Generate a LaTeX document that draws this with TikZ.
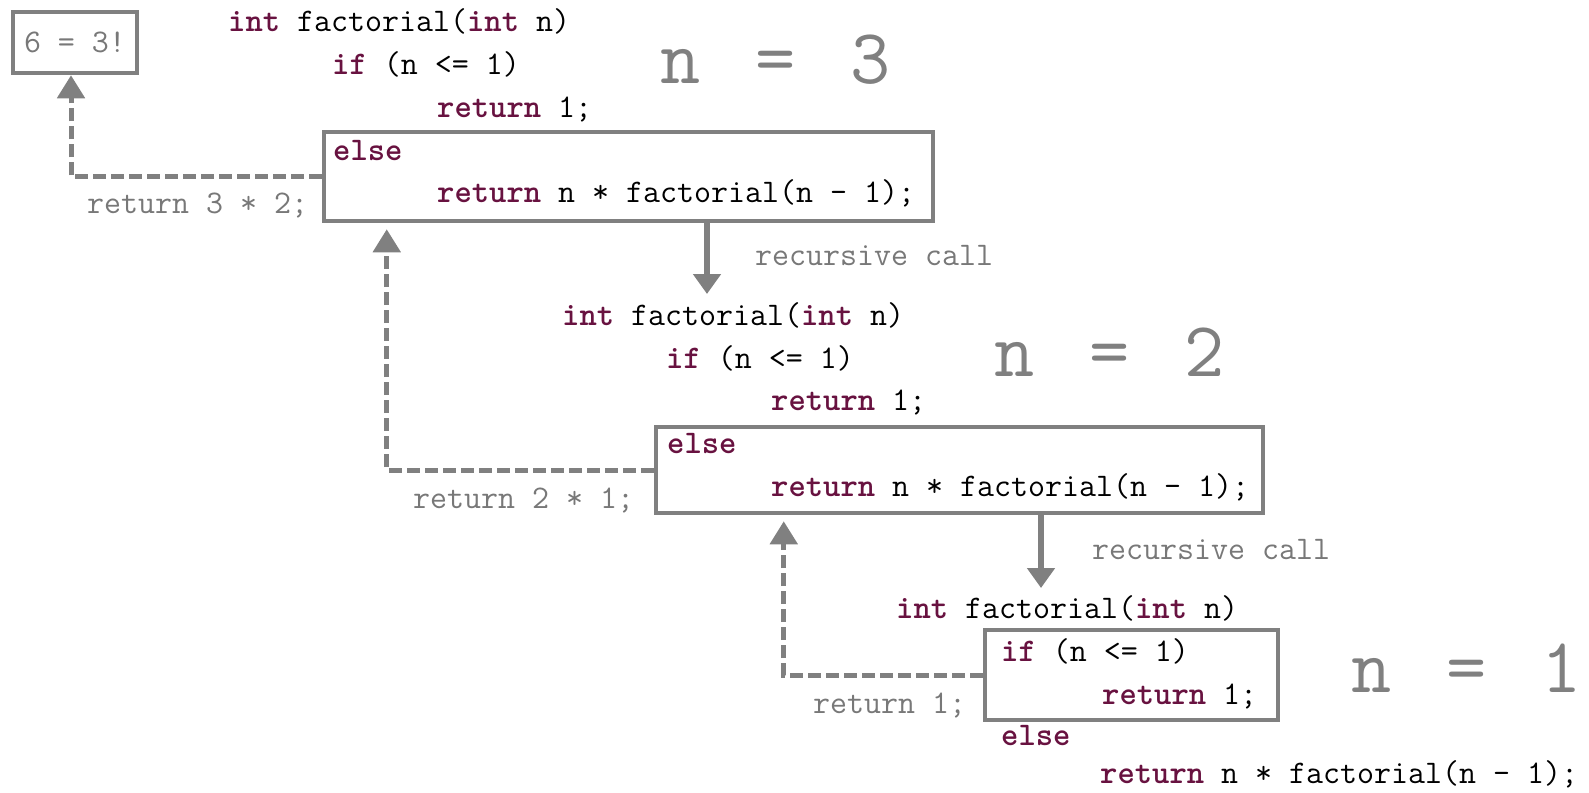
\documentclass[tikz,border=0pt]{standalone}
\usetikzlibrary{arrows.meta}

\definecolor{kwcol}{RGB}{104,18,64}
\definecolor{linegray}{RGB}{128,128,128}
\definecolor{labelgray}{RGB}{120,120,120}

\newcommand\cfont{\ttfamily\fontsize{33}{38}\selectfont}
\newcommand\bigfont{\ttfamily\fontsize{78}{80}\selectfont}
\newcommand\kw[1]{{\bfseries\color{kwcol}#1}}
\newcommand\nlabel[1]{n\hspace*{55pt}=\hspace*{55pt}#1}

\tikzset{
  code/.style={anchor=base west, inner sep=0pt, font=\cfont, text=black},
  note/.style={anchor=base west, inner sep=0pt, font=\cfont, text=labelgray},
  nval/.style={anchor=base west, inner sep=0pt, font=\bigfont, text=linegray},
  frame/.style={draw=linegray, line width=4.5pt, rectangle, inner sep=0pt},
  retarrow/.style={draw=linegray, line width=5pt, dash pattern=on 13pt off 5pt,
    -{Triangle[length=23pt,width=27pt]}},
  callarrow/.style={draw=linegray, line width=5.5pt,
    -{Triangle[length=20pt,width=27pt]}},
}

\begin{document}
\begin{tikzpicture}[x=1pt,y=-1pt]
\useasboundingbox (0,0) rectangle (1589,792);

% result box
\node[frame, minimum width=124pt, minimum height=61pt, font=\cfont, text=labelgray]
  (b0) at (75,42.5) {6 = 3!};

% ---- call with n = 3 ----
\node[code] (l1a) at (228,31.5)  {\kw{int} factorial(\kw{int} n)};
\node[code] (l1b) at (332,74.5)  {\kw{if} (n <= 1)};
\node[code] (l1c) at (437,117)   {\kw{return} 1;};
\node[frame, minimum width=609pt, minimum height=89pt] (b1) at (628.5,176.5) {};
\node[code] (l1d) at (333,160)   {\kw{else}};
\node[code] (l1e) at (437,202)   {\kw{return} n * factorial(n - 1);};
\node[nval] (n3) at (660,83) {\nlabel{3}};

% ---- call with n = 2 ----
\node[code] (l2a) at (562,325)   {\kw{int} factorial(\kw{int} n)};
\node[code] (l2b) at (666,368)   {\kw{if} (n <= 1)};
\node[code] (l2c) at (771,410.5) {\kw{return} 1;};
\node[frame, minimum width=607pt, minimum height=86pt] (b2) at (959.5,470) {};
\node[code] (l2d) at (667,453.5) {\kw{else}};
\node[code] (l2e) at (771,496)   {\kw{return} n * factorial(n - 1);};
\node[nval] (n2) at (994,376.5) {\nlabel{2}};

% ---- call with n = 1 ----
\node[code] (l3a) at (896,618.5) {\kw{int} factorial(\kw{int} n)};
\node[frame, minimum width=293pt, minimum height=90pt] (b3) at (1131.5,675) {};
\node[code] (l3b) at (1001,661.5) {\kw{if} (n <= 1)};
\node[code] (l3c) at (1102,704)  {\kw{return} 1;};
\node[code] (l3d) at (1001,745)  {\kw{else}};
\node[code] (l3e) at (1100,783)  {\kw{return} n * factorial(n - 1);};
\node[nval] (n1) at (1351,692) {\nlabel{1}};

% recursive calls
\coordinate (c1) at (707,294);
\coordinate (c2) at (1041,588);
\draw[callarrow] (b1.south -| c1) -- (c1);
\draw[callarrow] (b2.south -| c2) -- (c2);
\node[note] (rc1) at (755,265) {recursive call};
\node[note] (rc2) at (1092,559) {recursive call};

% returned values
\draw[retarrow] (b1.west) -| ([xshift=-4pt]b0.south);
\draw[retarrow] (b2.west) -| ([xshift=65pt,yshift=-6pt]b1.south west);
\draw[retarrow] (b3.west) -| ([xshift=130pt,yshift=-6pt]b2.south west);
\node[note] (r1) at (87,213)  {return 3 * 2;};
\node[note] (r2) at (413,508) {return 2 * 1;};
\node[note] (r3) at (813,713) {return 1;};
\end{tikzpicture}
\end{document}
